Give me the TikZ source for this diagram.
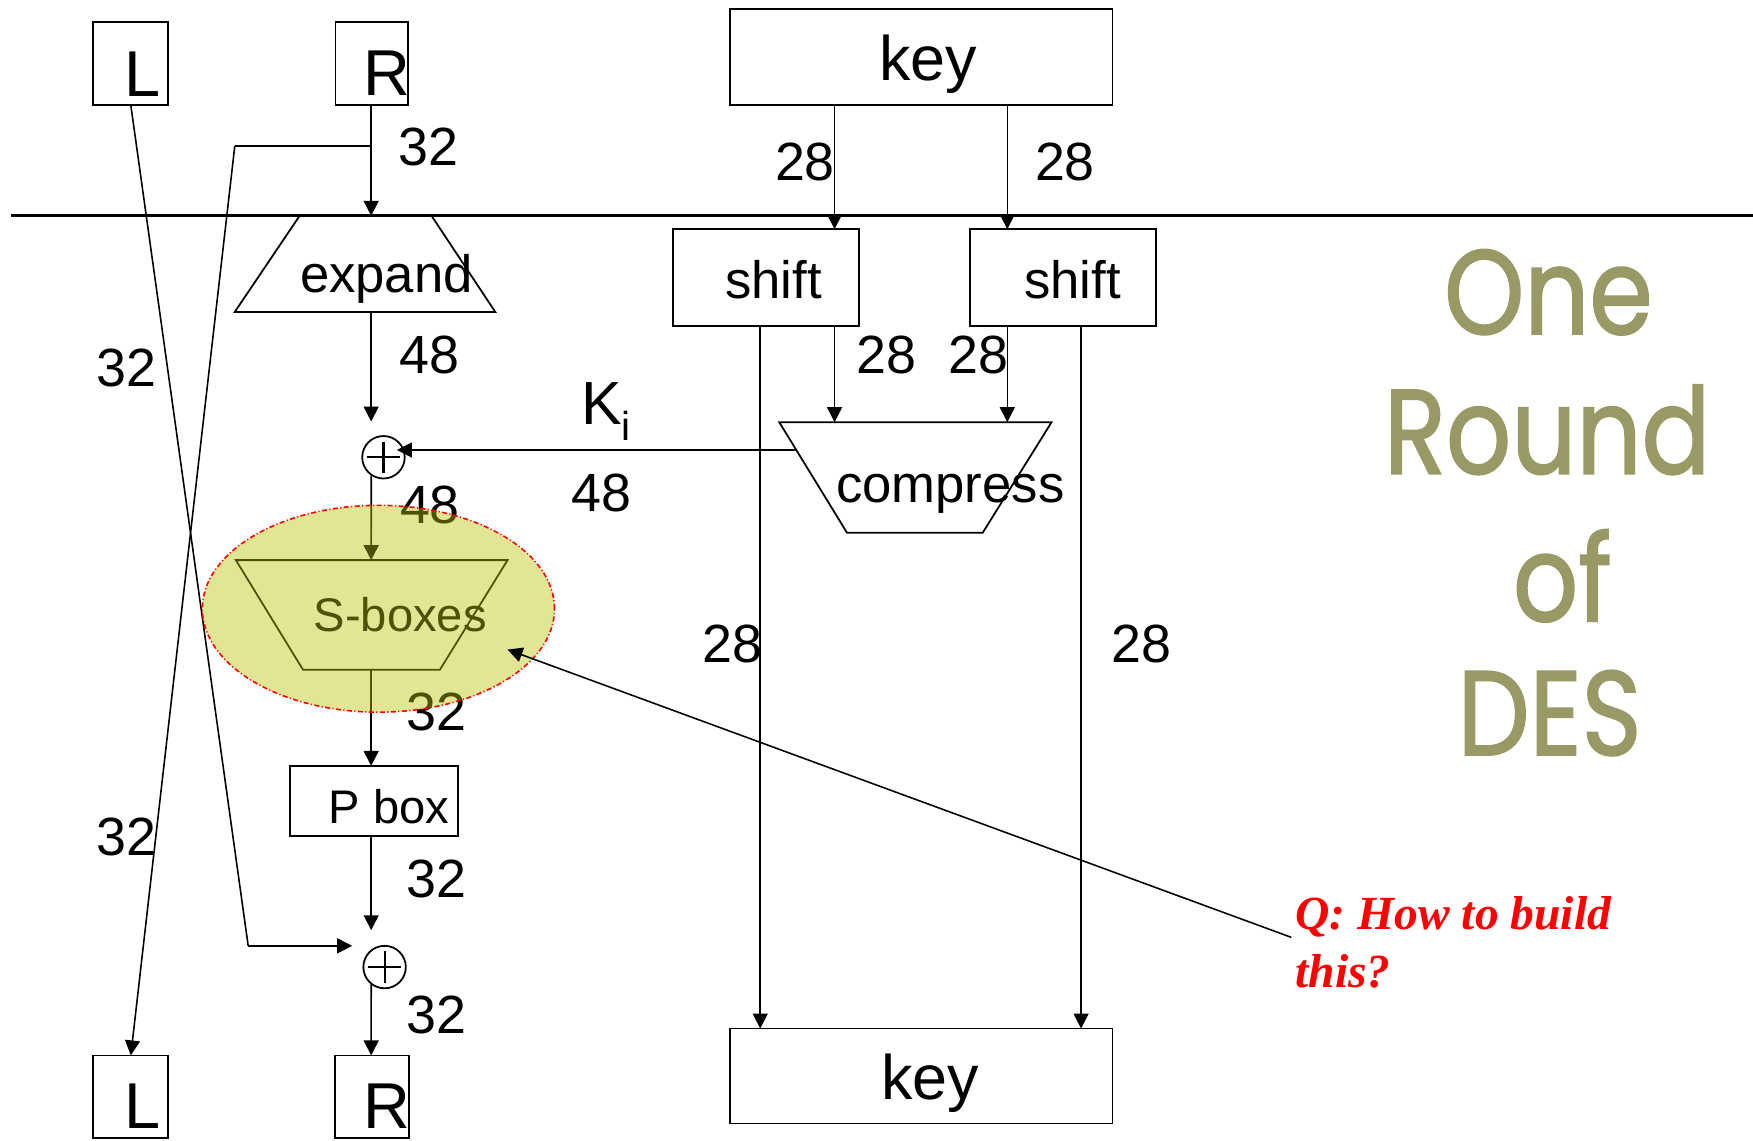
\documentclass[tikz,border=0pt]{standalone}
\usepackage{fontspec}
\setmainfont{Liberation Sans}
\newfontfamily\qfont{Liberation Serif}
\newfontfamily\titlefont{Poppins}[FakeBold=1.6]
\usetikzlibrary{arrows.meta,fit,calc,shapes.geometric}
\newcommand\fsz[1]{\fontsize{#1}{#1}\selectfont}
\newcommand\ttlword[1]{\scalebox{0.85}[1]{#1}}
\definecolor{olivetitle}{RGB}{153,153,102}
\definecolor{hlyellow}{RGB}{185,195,0}
\definecolor{qred}{RGB}{255,0,0}

\begin{document}
\begin{tikzpicture}[x=0.1mm,y=-0.1mm,
  box/.style={draw, line width=0.45pt, inner sep=0pt, outer sep=0pt},
  wire/.style={line width=0.4pt},
  arr/.style={wire, -{Triangle[length=3.8pt,width=3.8pt]}},
  trap/.style={draw, line width=0.45pt},
  num/.style={anchor=base, inner sep=0pt, font=\fsz{13.7}},
  big/.style={anchor=base, inner sep=0pt, font=\fsz{16.5}},
  mid/.style={anchor=base, inner sep=0pt, font=\fsz{13.4}},
  small/.style={anchor=base, inner sep=0pt, font=\fsz{12}},
  ttl/.style={anchor=base, inner sep=0pt, text=olivetitle, font=\titlefont\fsz{30.5}},
  qtext/.style={anchor=base west, inner sep=0pt, text=qred, font=\qfont\bfseries\itshape\fsz{12.1}},
  xor/.style={circle, draw, line width=0.45pt, minimum size=3.8mm, inner sep=0pt, outer sep=0pt,
    path picture={\draw[line width=0.55pt]
      ([xshift=-1.5mm]path picture bounding box.center) -- ([xshift=1.5mm]path picture bounding box.center)
      ([yshift=-1.4mm]path picture bounding box.center) -- ([yshift=1.4mm]path picture bounding box.center);}}
]
\useasboundingbox (0,0) rectangle (1568,1020);

% ---- boxes ----
\node[box, fit={(83,20) (150,94)}] (Ltop) {};
\node[box, fit={(300,20) (365,94)}] (Rtop) {};
\node[box, fit={(653,8) (995,94)}] (keytop) {};
\node[box, fit={(602,205) (768,291.6)}] (shiftA) {};
\node[box, fit={(867.7,205) (1034,291.6)}] (shiftB) {};
\node[box, fit={(259.5,685) (410,748)}] (pbox) {};
\node[box, fit={(83,944) (150,1018)}] (Lbot) {};
\node[box, fit={(299.5,944) (366,1018)}] (Rbot) {};
\node[box, fit={(653,920) (995,1005)}] (keybot) {};

\node[big] (tLtop) at (127.5,86.5) {L};
\node[big] (tRtop) at (346,85) {R};
\node[big] (tLbot) at (127.5,1009) {L};
\node[big] (tRbot) at (346,1009) {R};
\node[anchor=base, inner sep=0pt, font=\fsz{16}] (tkeytop) at (830,71.6) {key};
\node[anchor=base, inner sep=0pt, font=\fsz{16}] (tkeybot) at (832,983.6) {key};
\node[mid] (tshiftA) at (692,266.8) {shift};
\node[mid] (tshiftB) at (959.4,266.8) {shift};
\node[small] (tpbox) at (348,737) {P box};

% ---- separator ----
\coordinate (sepL) at (10,193);
\coordinate (sepR) at (1568,193);
\draw[line width=0.7pt] (sepL) -- (sepR);

% ---- trapezoids ----
\coordinate (eTL) at (268,193); \coordinate (eTR) at (386,193);
\coordinate (eBR) at (443,279); \coordinate (eBL) at (210,279);
\draw[trap] (eTL) -- (eTR) -- (eBR) -- (eBL) -- cycle;
\node[mid] (texpand) at (345.7,262) {expand};

\coordinate (cTL) at (697,377.6); \coordinate (cTR) at (940.6,377.6);
\coordinate (cBR) at (879,476.5); \coordinate (cBL) at (757.6,476.5);
\draw[trap] (cTL) -- (cTR) -- (cBR) -- (cBL) -- cycle;
\node[mid] (tcompress) at (850,449.6) {compress};

\coordinate (sTL) at (211,501); \coordinate (sTR) at (454,501);
\coordinate (sBR) at (393.5,599); \coordinate (sBL) at (271,599);
\draw[trap] (sTL) -- (sTR) -- (sBR) -- (sBL) -- cycle;
\node[small] (tsbox) at (358,565) {S-boxes};

% ---- xor nodes ----
\node[xor] (xorA) at (343,409) {};
\node[xor] (xorB) at (344,865) {};

% ---- named points on the data path ----
\coordinate (mainX) at (332,0);
\coordinate (eIn) at (332,193);
\coordinate (eOut) at (332,279);
\coordinate (xorAin) at (332,377);
\coordinate (sIn) at (332,501);
\coordinate (sOut) at (332,599);
\coordinate (xorBin) at (332,832);
\coordinate (split) at (332,130.6);
\coordinate (splitL) at (210,130.6);
\coordinate (Lbend) at (222,846);
\coordinate (xorBside) at (315,846);
\coordinate (cOut) at (712,402.5);
\coordinate (kiTip) at (355,402.5);
\coordinate (kA) at (746.5,0);
\coordinate (kB) at (901,0);
\coordinate (sA) at (680,0);
\coordinate (sB) at (967,0);
\coordinate (cInA) at (746.5,377.6);
\coordinate (cInB) at (901,377.6);
\coordinate (lX) at (117,0);

% ---- data path connectors ----
\draw[arr] (Rtop.south -| mainX) -- (eIn);
\draw[wire] (split) -- (splitL);
\draw[arr] (splitL) -- (Lbot.north -| lX);
\draw[wire] (Ltop.south -| lX) -- (Lbend);
\draw[arr] (Lbend) -- (xorBside);
\draw[arr] (eOut) -- (xorAin);
\draw[arr] (xorA.235) -- (sIn);
\draw[arr] (sOut) -- (pbox.north -| mainX);
\draw[arr] (pbox.south -| mainX) -- (xorBin);
\draw[arr] (xorB.231) -- (Rbot.north -| mainX);

% ---- key schedule connectors ----
\draw[arr] (keytop.south -| kA) -- (shiftA.north -| kA);
\draw[arr] (keytop.south -| kB) -- (shiftB.north -| kB);
\draw[arr] (shiftA.south -| kA) -- (cInA);
\draw[arr] (shiftB.south -| kB) -- (cInB);
\draw[arr] (shiftA.south -| sA) -- (keybot.north -| sA);
\draw[arr] (shiftB.south -| sB) -- (keybot.north -| sB);
\draw[arr] (cOut) -- (kiTip);

% ---- bit widths ----
\node[num] (w1) at (383,147.6) {32};
\node[num] (w2) at (384,333.9) {48};
\node[num] (w3) at (113,345.9) {32};
\node[num] (w4) at (113,764.8) {32};
\node[num] (w5) at (384.6,468) {48};
\node[num] (w6) at (538,457.7) {48};
\node[num] (w7) at (390.6,653) {32};
\node[num] (w8) at (390,803) {32};
\node[num] (w9) at (390,924) {32};
\node[num] (w10) at (720,161) {28};
\node[num] (w11) at (952.6,161) {28};
\node[num] (w12) at (793,334) {28};
\node[num] (w13) at (875,334) {28};
\node[num] (w14) at (655,593) {28};
\node[num] (w15) at (1021,593) {28};

\node[anchor=base west, inner sep=0pt, font=\fsz{15.5}] (ki) at (519,380)
  {K\raisebox{-3.9pt}{\fsz{10.3}i}};

% ---- highlight over the S-boxes ----
\node[ellipse, draw=red, line width=0.4pt,
      dash pattern=on 1.3pt off 0.6pt on 0.3pt off 0.6pt,
      fill=hlyellow, fill opacity=0.42,
      minimum width=31.5mm, minimum height=18.5mm, inner sep=0pt] (hl) at (338.5,544.5) {};

% ---- question ----
\node[qtext] (q1) at (1158,831) {Q: How to build};
\node[qtext] (q2) at (1158,883) {this?};
\coordinate (qStart) at (1155,838.4);
\coordinate (qTip) at (454,581);
\draw[arr] (qStart) -- (qTip);

% ---- title ----
\node[ttl] (t1) at (1385,298.7) {\ttlword{One}};
\node[ttl] (t2) at (1384,423.6) {\ttlword{Round}};
\node[ttl] (t3) at (1397.5,555.5) {\ttlword{of}};
\node[ttl] (t4) at (1386,675.3) {\ttlword{DES}};
\end{tikzpicture}
\end{document}
